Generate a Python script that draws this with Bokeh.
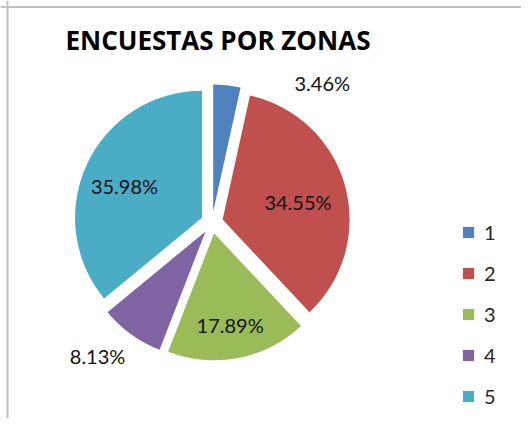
import numpy as np
from bokeh.plotting import figure
from bokeh.models import ColumnDataSource, Range1d, Span, Label, Legend, LegendItem
from bokeh.embed import file_html
from bokeh.resources import INLINE
from bokeh.core.properties import value

# ---- data ----
title_text = "ENCUESTAS POR ZONAS"
zones = ["1", "2", "3", "4", "5"]
percents = [3.46, 34.55, 17.89, 8.13, 35.98]
colors = ["#4F81BD", "#C0504D", "#9BBB59", "#8064A2", "#4BACC6"]

# ---- layout / style ----
W, H = 521, 418
CX, CY = 211.5, 196.0      # pie centre (data units = screen px)
R = 127.0                  # radius
EXPLODE = 11.0             # explosion distance
label_r = [1.33, 0.61, 0.73, 1.30, 0.66]        # label radius as fraction of R
label_shift = [-34.0, -2.0, -1.0, -5.0, 3.0]     # label angle shift, degrees

vals = np.array(percents)
frac = vals / vals.sum()
cum = np.concatenate([[0.0], np.cumsum(frac)[:-1]])
start = np.pi / 2 - cum * 2 * np.pi
end = start - frac * 2 * np.pi
mid = (start + end) / 2
xs = CX + EXPLODE * np.cos(mid)
ys = CY + EXPLODE * np.sin(mid)

la = mid + np.radians(label_shift)
lx = xs + np.array(label_r) * R * np.cos(la)
ly = ys + np.array(label_r) * R * np.sin(la)

src = ColumnDataSource(dict(x=xs, y=ys, start=start, end=end, color=colors,
                            zone=zones, lx=lx, ly=ly,
                            txt=[f"{v:.2f}%" for v in percents]))

p = figure(width=W, height=H, x_range=Range1d(0, W), y_range=Range1d(0, H),
           output_backend="svg", toolbar_location=None, min_border=0,
           x_axis_location=None, y_axis_location=None)
p.grid.visible = False
p.outline_line_color = None
p.background_fill_color = "white"
p.border_fill_color = "white"

# outer chart border (top and left visible)
p.add_layout(Span(location=7, dimension="height", line_color="#BFBFBF", line_width=2))
p.add_layout(Span(location=411.5, dimension="width", line_color="#BFBFBF", line_width=2))

wr = p.wedge(x="x", y="y", radius=R, start_angle="start", end_angle="end",
             direction="clock", fill_color="color", line_color=None, source=src)

p.text(x="lx", y="ly", text="txt", source=src, text_align="center",
       text_baseline="middle", text_font=value("Lato"), text_font_size="20px",
       text_color="#111111")

p.add_layout(Label(x=65, y=379, text=title_text, text_font="Open Sans",
                   text_font_style="bold", text_font_size="26px",
                   text_color="#000000", text_baseline="middle"))

legend = Legend(items=[LegendItem(label=z, renderers=[wr], index=i) for i, z in enumerate(zones)],
                location=(461, 10), orientation="vertical",
                glyph_width=14, glyph_height=14, label_standoff=9,
                label_text_font="Lato", label_text_font_size="20px",
                label_text_color="#262626", label_height=24, spacing=17,
                padding=0, margin=0, border_line_color=None,
                background_fill_alpha=0)
p.add_layout(legend)

open("out.html", "w").write(file_html(p, INLINE))
